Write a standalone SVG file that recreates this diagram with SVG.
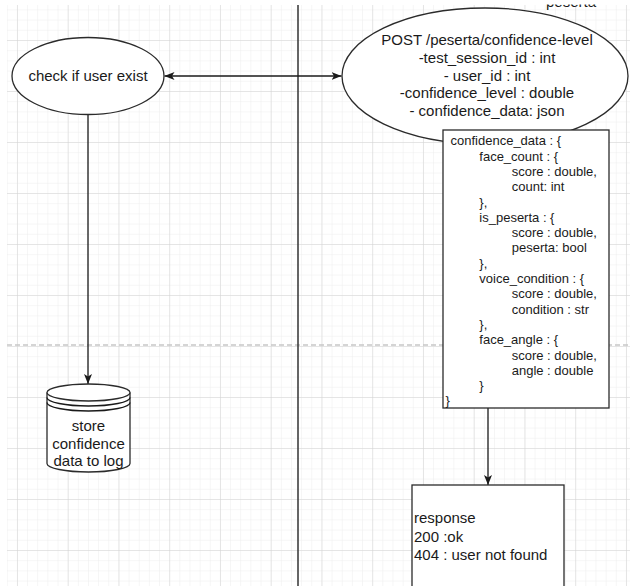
<svg xmlns="http://www.w3.org/2000/svg" width="630" height="586" viewBox="0 0 630 586">
<style>
  .shape { fill: #ffffff; stroke: #2b2b2b; stroke-width: 1.3; }
  .edge { fill: none; stroke: #1a1a1a; stroke-width: 1.3; }
  .t15 { font-family: "Liberation Sans", Arial, sans-serif; font-size: 15px; fill: #1a1a1a; }
  .t13 { font-family: "Liberation Sans", Arial, sans-serif; font-size: 13px; fill: #1a1a1a; }
  .mid { text-anchor: middle; }
</style>
<defs>
  <pattern id="minor" patternUnits="userSpaceOnUse" x="6.8" y="-0.8" width="10.15" height="10.2">
    <path d="M0,0 V10.2 M0,0 H10.15" fill="none" stroke="#ededed" stroke-width="1"/>
  </pattern>
  <pattern id="major" patternUnits="userSpaceOnUse" x="16.95" y="-11" width="50.75" height="51">
    <path d="M0,0 V51 M0,0 H50.75" fill="none" stroke="#d4d4d4" stroke-width="1"/>
  </pattern>
  <marker id="arrow" viewBox="0 0 10 8" refX="10" refY="4" markerWidth="10" markerHeight="8" markerUnits="userSpaceOnUse" orient="auto-start-reverse">
    <path d="M0,0 L10,4 L0,8 L2.5,4 z" fill="#1a1a1a"/>
  </marker>
  <clipPath id="topclip"><rect x="530" y="4.5" width="80" height="10"/></clipPath>
</defs>

<rect x="0" y="0" width="630" height="586" fill="#ffffff"/>
<g id="grid">
  <rect x="7" y="5" width="623" height="581" fill="url(#minor)"/>
  <rect x="7" y="5" width="623" height="581" fill="url(#major)"/>
  <line x1="7" y1="345" x2="630" y2="345" stroke="#c8c8c8" stroke-width="1.3" stroke-dasharray="5 3"/>
  <line x1="298" y1="5" x2="298" y2="586" stroke="#333333" stroke-width="1.5"/>
</g>

<g id="cut-label" clip-path="url(#topclip)">
  <text class="t15" x="546" y="7.3">peserta</text>
</g>

<g id="connectors">
  <line class="edge" x1="164.5" y1="76" x2="341.5" y2="76" marker-start="url(#arrow)" marker-end="url(#arrow)"/>
  <line class="edge" x1="88" y1="115" x2="88" y2="384" marker-end="url(#arrow)"/>
  <line class="edge" x1="488" y1="408" x2="488" y2="485" marker-end="url(#arrow)"/>
</g>

<g id="check-user">
  <ellipse class="shape" cx="88" cy="76" rx="76" ry="38.5"/>
  <text class="t15 mid" x="88" y="81">check if user exist</text>
</g>

<g id="post-endpoint">
  <ellipse class="shape" cx="485" cy="76" rx="143" ry="68"/>
  <text class="t15 mid" x="487" y="45.3">POST /peserta/confidence-level</text>
  <text class="t15 mid" x="487" y="63">-test_session_id : int</text>
  <text class="t15 mid" x="487" y="80.6">- user_id : int</text>
  <text class="t15 mid" x="487" y="98.4">-confidence_level : double</text>
  <text class="t15 mid" x="487" y="116">- confidence_data: json</text>
</g>

<g id="confidence-data">
  <rect class="shape" x="443" y="130" width="166" height="278"/>
  <text class="t13" x="450.5" y="145.3">confidence_data : {</text>
  <text class="t13" x="479.3" y="160.6">face_count : {</text>
  <text class="t13" x="511.7" y="175.9">score : double,</text>
  <text class="t13" x="511.7" y="191.2">count: int</text>
  <text class="t13" x="479.3" y="206.5">},</text>
  <text class="t13" x="479.3" y="221.8">is_peserta : {</text>
  <text class="t13" x="511.7" y="237.1">score : double,</text>
  <text class="t13" x="511.7" y="252.4">peserta: bool</text>
  <text class="t13" x="479.3" y="267.7">},</text>
  <text class="t13" x="479.3" y="283">voice_condition : {</text>
  <text class="t13" x="511.7" y="298.3">score : double,</text>
  <text class="t13" x="511.7" y="313.6">condition : str</text>
  <text class="t13" x="479.3" y="328.9">},</text>
  <text class="t13" x="479.3" y="344.2">face_angle : {</text>
  <text class="t13" x="511.7" y="359.5">score : double,</text>
  <text class="t13" x="511.7" y="374.8">angle : double</text>
  <text class="t13" x="479.3" y="390.1">}</text>
  <text class="t13" x="445.5" y="405.4">}</text>
</g>

<g id="store-log">
  <path class="shape" d="M47,392.5 L47,463.5 A41.5,8.5 0 0 0 130,463.5 L130,392.5"/>
  <ellipse class="shape" cx="88.5" cy="392.5" rx="41.5" ry="8.5"/>
  <path class="edge" d="M47,397.5 A41.5,8.5 0 0 0 130,397.5 M47,402.5 A41.5,8.5 0 0 0 130,402.5" stroke="#2b2b2b"/>
  <text class="t15 mid" x="88.5" y="431.3">store</text>
  <text class="t15 mid" x="88.5" y="448.8">confidence</text>
  <text class="t15 mid" x="88.5" y="466.3">data to log</text>
</g>

<g id="response">
  <rect class="shape" x="412" y="485" width="152" height="120"/>
  <text class="t15" x="414" y="523">response</text>
  <text class="t15" x="414" y="541.7">200 :ok</text>
  <text class="t15" x="414" y="560.4">404 : user not found</text>
</g>
</svg>
